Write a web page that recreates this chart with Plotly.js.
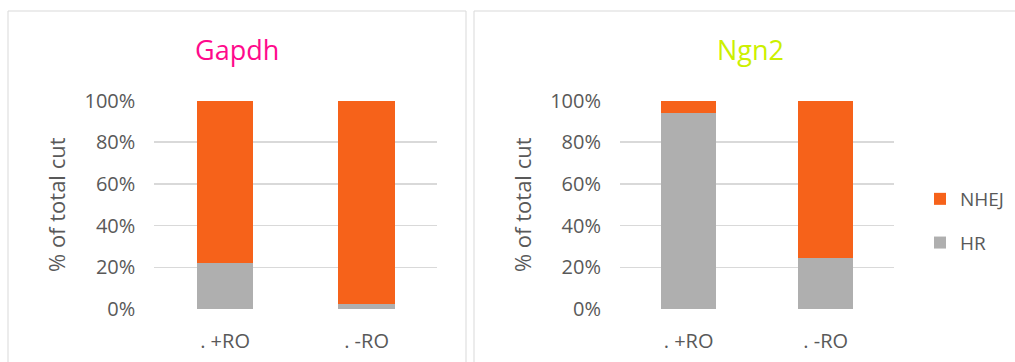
<!DOCTYPE html>
<html>
<head>
<meta charset="utf-8">
<script src="https://cdn.plot.ly/plotly-3.0.1.min.js"></script>
<style>html,body{margin:0;padding:0;background:#fff;}#chart{width:1015px;height:362px;}</style>
</head>
<body>
<div id="chart"></div>
<script>
// ---- data ----
var categories = ['. +RO', '. -RO'];
var gapdhHR = [22.3, 2.2];
var gapdhNHEJ = [77.7, 97.8];
var ngn2HR = [94.0, 24.3];
var ngn2NHEJ = [6.0, 75.7];
var yTickVals = [0, 20, 40, 60, 80, 100];
var yTickText = ['0%', '20%', '40%', '60%', '80%', '100%'];
var panelTitles = ['Gapdh', 'Ngn2'];
var yTitle = '% of total cut';
var seriesNames = ['HR', 'NHEJ'];

var W = 1015, H = 362;
var orange = '#F6621A', grey = '#AFAFAF', txt = '#595959', grid = '#D9D9D9';
var FONT = 'Open Sans, sans-serif';
function px(v){ return v / W; }
function py(v){ return (H - v) / H; }

var traces = [
  {type:'bar', x:categories, y:gapdhHR, name:seriesNames[0], marker:{color:grey}, xaxis:'x', yaxis:'y', showlegend:false, width:0.4},
  {type:'bar', x:categories, y:gapdhNHEJ, name:seriesNames[1], marker:{color:orange}, xaxis:'x', yaxis:'y', showlegend:false, width:0.4},
  {type:'bar', x:categories, y:ngn2HR, name:seriesNames[0], marker:{color:grey}, xaxis:'x2', yaxis:'y2', legendgroup:'hr', legendrank:2, width:0.4},
  {type:'bar', x:categories, y:ngn2NHEJ, name:seriesNames[1], marker:{color:orange}, xaxis:'x2', yaxis:'y2', legendgroup:'nhej', legendrank:1, width:0.4}
];

var yBase = {
  range:[0, 100], tickvals:yTickVals, ticktext:yTickText, showgrid:true, gridcolor:grid, gridwidth:1.5,
  zeroline:false, showline:false, ticks:'', ticklabelstandoff:18,
  tickfont:{family:FONT, size:20, color:txt},
  title:{text:yTitle, font:{family:FONT, size:22, color:txt}, standoff:12},
  fixedrange:true
};
var xBase = {
  showgrid:false, zeroline:false, showline:false, ticks:'', ticklabelstandoff:18,
  tickfont:{family:FONT, size:20, color:txt}, fixedrange:true
};

var layout = {
  width:W, height:H,
  margin:{l:0, r:0, t:0, b:0},
  paper_bgcolor:'#fff', plot_bgcolor:'#fff',
  barmode:'stack',
  font:{family:FONT, color:txt},
  xaxis: Object.assign({}, xBase, {domain:[px(154.3), px(437.3)], anchor:'y'}),
  yaxis: Object.assign({}, yBase, {domain:[py(309), py(100.5)], anchor:'x'}),
  xaxis2: Object.assign({}, xBase, {domain:[px(620), px(894.3)], anchor:'y2'}),
  yaxis2: Object.assign({}, yBase, {domain:[py(309), py(100.5)], anchor:'x2'}),
  showlegend:true,
  legend:{x:px(920), y:py(180), xanchor:'left', yanchor:'top', traceorder:'grouped', tracegroupgap:16,
          font:{family:FONT, size:19, color:txt}, bgcolor:'rgba(0,0,0,0)', itemclick:false, itemdoubleclick:false},
  shapes:[
    {type:'rect', xref:'paper', yref:'paper', x0:px(8), x1:px(466), y0:py(372), y1:py(11), line:{color:grid, width:1}, layer:'below'},
    {type:'rect', xref:'paper', yref:'paper', x0:px(474), x1:px(1030), y0:py(372), y1:py(11), line:{color:grid, width:1}, layer:'below'}
  ],
  annotations:[
    {text:panelTitles[0], xref:'paper', yref:'paper', x:px(237), y:py(50), xanchor:'center', yanchor:'middle', showarrow:false,
     font:{family:FONT, size:27, color:'#FF0A8C'}},
    {text:panelTitles[1], xref:'paper', yref:'paper', x:px(750), y:py(50), xanchor:'center', yanchor:'middle', showarrow:false,
     font:{family:FONT, size:27, color:'#CCF000'}}
  ]
};

Plotly.newPlot('chart', traces, layout, {displayModeBar:false, staticPlot:true});
</script>
</body>
</html>
